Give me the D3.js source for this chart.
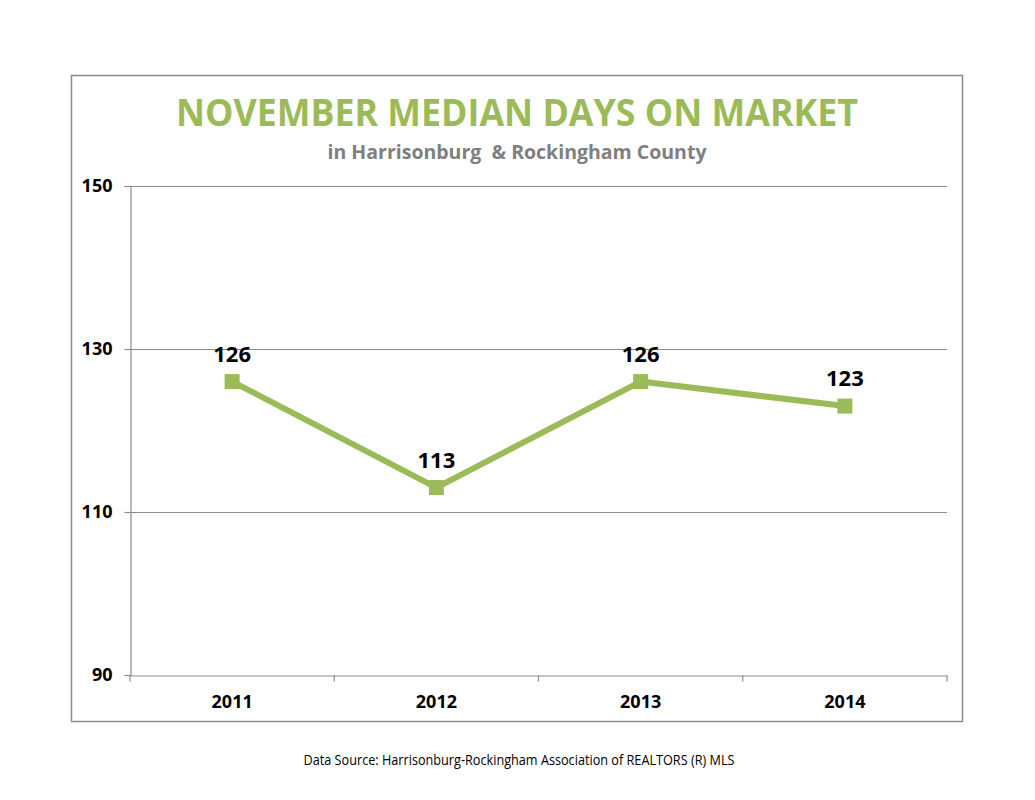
<!DOCTYPE html>
<html>
<head>
<meta charset="utf-8">
<script src="https://cdn.jsdelivr.net/npm/d3@7"></script>
<style>
  body { margin: 0; background: #fff; }
  text { font-family: 'Open Sans', 'Noto Sans', sans-serif; }
</style>
</head>
<body>
<div id="chart"></div>
<script>
// data
const years = ['2011', '2012', '2013', '2014']
const days = [126, 113, 126, 123]
const yTicks = [90, 110, 130, 150]

const green = '#9bbb59'
const gridColor = '#8c8c8c'

// sizes
const width = 1035
const height = 800
const plot = { left: 130, right: 947, top: 186, bottom: 675 }

const svg = d3.select('#chart')
  .append('svg')
  .attr('width', width)
  .attr('height', height)

// outer frame
svg.append('rect')
  .attr('x', 71.5).attr('y', 75.5)
  .attr('width', 891).attr('height', 646)
  .attr('fill', 'none')
  .attr('stroke', '#8c8c8c')
  .attr('stroke-width', 1.5)

// titles
svg.append('text')
  .attr('x', 517).attr('y', 126)
  .attr('text-anchor', 'middle')
  .attr('fill', green)
  .attr('font-weight', 700)
  .attr('font-size', 37)
  .attr('textLength', 682)
  .attr('lengthAdjust', 'spacingAndGlyphs')
  .text('NOVEMBER MEDIAN DAYS ON MARKET')

svg.append('text')
  .attr('x', 517).attr('y', 159)
  .attr('text-anchor', 'middle')
  .attr('fill', '#7f7f7f')
  .attr('font-weight', 700)
  .attr('font-size', 20)
  .style('white-space', 'pre')
  .attr('textLength', 379)
  .attr('lengthAdjust', 'spacingAndGlyphs')
  .text('in Harrisonburg  & Rockingham County')

// scales
const x = d3.scaleBand().domain(years).range([plot.left, plot.right])
const y = d3.scaleLinear().domain([90, 150]).range([plot.bottom, plot.top])

// gridlines
svg.append('g')
  .selectAll('line')
  .data(yTicks.filter(d => d !== 90))
  .enter().append('line')
  .attr('x1', plot.left).attr('x2', plot.right)
  .attr('y1', d => Math.round(y(d)) + 0.5)
  .attr('y2', d => Math.round(y(d)) + 0.5)
  .attr('stroke', gridColor)
  .attr('stroke-width', 1.2)

// y axis
const yAxis = svg.append('g')
  .attr('transform', `translate(${plot.left + 0.5},0)`)
  .call(d3.axisLeft(y).tickValues(yTicks).tickSize(6).tickPadding(12))
yAxis.select('.domain').attr('stroke', gridColor).attr('stroke-width', 1.2)
yAxis.selectAll('.tick line').attr('stroke', gridColor).attr('stroke-width', 1.2)
yAxis.selectAll('.tick text')
  .attr('font-size', 18).attr('font-weight', 700).attr('fill', '#000')
  .attr('font-family', "'Open Sans', 'Noto Sans', sans-serif")

// x axis
const xAxis = svg.append('g')
  .attr('transform', `translate(0,${plot.bottom + 0.5})`)
  .call(d3.axisBottom(x).tickSize(0).tickPadding(20))
xAxis.select('.domain').attr('stroke', gridColor).attr('stroke-width', 1.2)
xAxis.selectAll('.tick text')
  .attr('font-size', 18).attr('font-weight', 700).attr('fill', '#000')
  .attr('font-family', "'Open Sans', 'Noto Sans', sans-serif")

// category dividers on x axis
xAxis.append('g')
  .selectAll('line')
  .data(years.concat(['end']))
  .enter().append('line')
  .attr('x1', (d, i) => plot.left + i * x.bandwidth())
  .attr('x2', (d, i) => plot.left + i * x.bandwidth())
  .attr('y1', 0).attr('y2', 6)
  .attr('stroke', gridColor)
  .attr('stroke-width', 1.2)

// line
const cx = d => x(d) + x.bandwidth() / 2
const line = d3.line()
  .x((d, i) => cx(years[i]))
  .y(d => y(d))

svg.append('path')
  .datum(days)
  .attr('d', line)
  .attr('fill', 'none')
  .attr('stroke', green)
  .attr('stroke-width', 6)
  .attr('stroke-linejoin', 'round')

// markers
svg.append('g')
  .selectAll('rect')
  .data(days)
  .enter().append('rect')
  .attr('x', (d, i) => cx(years[i]) - 7.5)
  .attr('y', d => y(d) - 7.5)
  .attr('width', 15).attr('height', 15)
  .attr('fill', green)

// value labels
svg.append('g')
  .selectAll('text')
  .data(days)
  .enter().append('text')
  .attr('x', (d, i) => cx(years[i]))
  .attr('y', d => y(d) - 20)
  .attr('text-anchor', 'middle')
  .attr('font-size', 22)
  .attr('font-weight', 700)
  .attr('fill', '#000')
  .text(d => d)

// footer
svg.append('text')
  .attr('x', 519).attr('y', 765)
  .attr('text-anchor', 'middle')
  .attr('font-size', 14)
  .attr('fill', '#000')
  .attr('textLength', 431)
  .attr('lengthAdjust', 'spacingAndGlyphs')
  .text('Data Source: Harrisonburg-Rockingham Association of REALTORS (R) MLS')
</script>
</body>
</html>
